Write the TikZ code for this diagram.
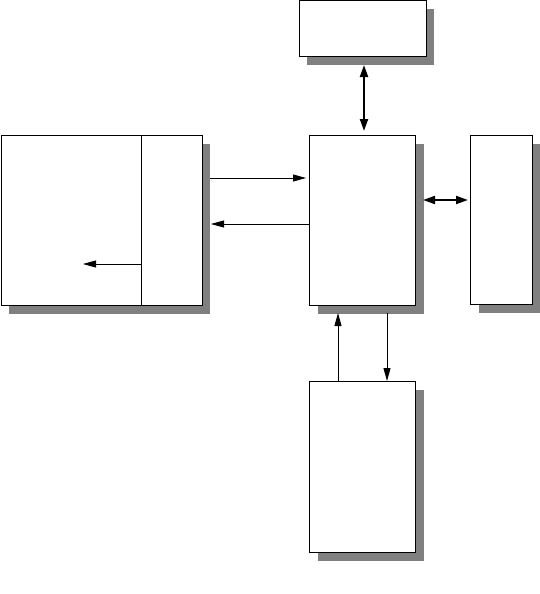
\documentclass[tikz,border=0pt]{standalone}
\usetikzlibrary{arrows.meta,shadows}
\definecolor{shadowgray}{HTML}{808080}
\begin{document}
\begin{tikzpicture}[x=1pt,y=-1pt,
  box/.style={draw, line width=1pt, fill=white, inner sep=0pt, anchor=north west,
    drop shadow={shadow xshift=8pt, shadow yshift=-8pt, fill=shadowgray, opacity=1}},
  thickbox/.style={box, line width=1.4pt},
  one/.style={line width=0.9pt, -{Triangle[length=13pt,width=7pt]}},
  dbl/.style={line width=2pt, {Triangle[length=12pt,width=8pt]}-{Triangle[length=12pt,width=8pt]}}]
\useasboundingbox (0,0) rectangle (540,594);
\node[box, minimum width=127pt, minimum height=56pt] (T) at (298.5,0.5) {};
\node[box, minimum width=201pt, minimum height=170pt] (L) at (0.6,135) {};
\node[box, minimum width=106pt, minimum height=170pt] (C) at (309,135) {};
\node[thickbox, minimum width=62pt, minimum height=169pt] (R) at (470,135) {};
\node[thickbox, minimum width=106pt, minimum height=171pt] (B) at (309,381) {};
% divider in left box
\coordinate (d1) at (141,135);
\coordinate (d2) at (141,305);
\draw[line width=1pt] (d1) -- (d2);
% connectors
\coordinate (t1) at (364,65);
\coordinate (t2) at (364,131);
\draw[dbl] (t1) -- (t2);
\coordinate (a1) at (210,178);
\coordinate (a2) at (306,178);
\draw[one] (a1) -- (a2);
\coordinate (b1) at (309,224);
\coordinate (b2) at (211,224);
\draw[one] (b1) -- (b2);
\coordinate (c1) at (141,264);
\coordinate (c2) at (83,264);
\draw[one] (c1) -- (c2);
\coordinate (r1) at (423,200);
\coordinate (r2) at (468,200);
\draw[dbl] (r1) -- (r2);
\coordinate (u1) at (338,381);
\coordinate (u2) at (338,313);
\draw[one] (u1) -- (u2);
\coordinate (v1) at (387,313);
\coordinate (v2) at (387,381);
\draw[one] (v1) -- (v2);
\end{tikzpicture}
\end{document}
